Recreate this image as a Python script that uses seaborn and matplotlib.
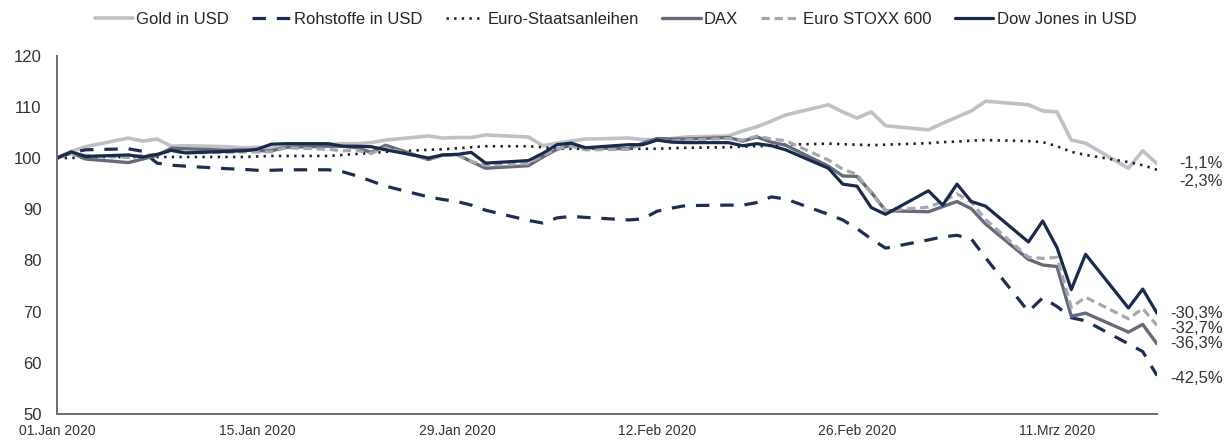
import pandas as pd
import seaborn as sns
import matplotlib.pyplot as plt
from matplotlib.transforms import offset_copy

# weekdays 01.01.2020 - 18.03.2020, index 100 = 31.12.2019
dates = pd.bdate_range("2020-01-01", "2020-03-18")

gold = [100, 101.3, 102.2, 103.9, 103.3, 103.7, 102.3, 102.4, 102.2, 102.0,
        102.1, 102.0, 102.3, 102.6, 102.8, 102.8, 103.0, 103.5, 104.3, 103.9,
        104.0, 104.0, 104.5, 104.1, 102.4, 102.9, 103.3, 103.7, 103.9, 103.6,
        103.5, 103.8, 104.1, 104.3, 105.3, 106.1, 107.2, 108.4, 110.4, 109.0,
        107.8, 109.0, 106.3, 105.5, 106.8, 108.0, 109.2, 111.1, 110.4, 109.2,
        109.0, 103.5, 102.9, 98.0, 101.4, 98.9]
rohstoffe = [100, 101.0, 101.6, 101.8, 101.3, 99.0, 98.6, 98.4, 97.9, 97.8,
             97.6, 97.6, 97.7, 97.7, 97.3, 96.5, 95.5, 94.5, 92.4, 91.9,
             91.5, 90.8, 89.8, 87.8, 87.3, 88.3, 88.6, 88.4, 87.9, 88.1,
             89.6, 90.2, 90.7, 90.8, 90.8, 91.3, 92.4, 92.0, 89.0, 87.9,
             86.2, 84.2, 82.4, 84.0, 84.6, 84.9, 84.2, 80.5, 70.0, 72.7,
             71.0, 68.8, 68.2, 63.7, 62.2, 57.5]
staatsanleihen = [100, 100.0, 100.2, 100.2, 100.2, 100.2, 100.2, 100.2, 100.2, 100.2,
                  100.3, 100.4, 100.4, 100.4, 100.6, 100.8, 101.0, 101.2, 101.6, 101.7,
                  101.9, 102.1, 102.3, 102.3, 102.1, 101.8, 101.8, 101.8, 101.8, 101.8,
                  101.8, 101.9, 102.0, 102.1, 102.2, 102.3, 102.4, 102.6, 102.8, 102.7,
                  102.6, 102.5, 102.6, 102.9, 103.1, 103.2, 103.4, 103.5, 103.3, 103.1,
                  102.3, 101.2, 100.6, 99.2, 98.6, 97.7]
dax = [100, 101.0, 99.8, 99.1, 99.8, 100.5, 101.9, 101.8, 101.5, 101.6,
       101.4, 101.4, 102.1, 102.3, 102.3, 102.0, 101.1, 102.5, 99.7, 100.6,
       100.7, 99.3, 98.0, 98.5, 100.2, 101.7, 102.5, 102.0, 101.8, 102.9,
       103.8, 103.7, 103.7, 104.0, 103.3, 104.1, 103.1, 102.5, 98.4, 96.5,
       96.4, 93.3, 89.7, 89.5, 90.5, 91.5, 90.1, 87.1, 80.2, 79.1,
       78.8, 69.1, 69.7, 66.0, 67.5, 63.7]
stoxx = [100, 100.9, 100.5, 100.1, 100.5, 100.7, 101.4, 101.0, 101.1, 101.2,
         101.2, 101.2, 102.0, 101.7, 101.4, 101.5, 100.9, 102.0, 99.7, 100.5,
         100.6, 99.3, 98.6, 98.9, 100.5, 101.8, 102.3, 101.6, 101.7, 102.7,
         103.5, 103.3, 103.5, 103.8, 103.5, 104.3, 103.7, 103.4, 99.6, 97.8,
         96.8, 93.2, 89.7, 90.4, 91.5, 93.0, 91.4, 88.0, 80.6, 80.4,
         80.6, 70.8, 72.8, 68.6, 70.6, 67.3]
dow = [100, 101.2, 100.3, 100.6, 100.2, 100.7, 101.5, 101.0, 101.3, 101.4,
       101.7, 102.7, 102.8, 102.8, 102.3, 102.3, 102.2, 101.6, 100.0, 100.6,
       100.7, 101.1, 99.0, 99.5, 100.9, 102.6, 102.9, 102.0, 102.6, 102.6,
       103.5, 103.1, 103.0, 103.0, 102.4, 102.8, 102.4, 101.6, 98.0, 94.9,
       94.5, 90.3, 89.0, 93.6, 90.8, 94.9, 91.5, 90.6, 83.6, 87.7,
       82.5, 74.3, 81.2, 70.7, 74.4, 69.7]

names = ["Gold in USD", "Rohstoffe in USD", "Euro-Staatsanleihen",
         "DAX", "Euro STOXX 600", "Dow Jones in USD"]
series = [gold, rohstoffe, staatsanleihen, dax, stoxx, dow]

tick_dates = ["2020-01-01", "2020-01-15", "2020-01-29",
              "2020-02-12", "2020-02-26", "2020-03-11"]
tick_labels = ["01.Jan 2020", "15.Jan 2020", "29.Jan 2020",
               "12.Feb 2020", "26.Feb 2020", "11.Mrz 2020"]

# style per series: colour, width, dash pattern
styles = {
    "Gold in USD":         ("#c0c1c6", 2.6, "-"),
    "Rohstoffe in USD":    ("#1c2f52", 2.3, (0, (4.2, 3.4))),
    "Euro-Staatsanleihen": ("#1b2233", 1.9, (0, (0.9, 2.0))),
    "DAX":                 ("#676b78", 2.4, "-"),
    "Euro STOXX 600":      ("#a6a8b0", 2.3, (0, (2.6, 1.5))),
    "Dow Jones in USD":    ("#182b4c", 2.3, "-"),
}
# small vertical nudges (px) for end labels so they don't overlap
label_nudge = {"Euro-Staatsanleihen": -12, "Euro STOXX 600": -3, "Rohstoffe in USD": -3}

df = pd.DataFrame({"Datum": dates})
for n, s in zip(names, series):
    df[n] = s
long = df.melt(id_vars="Datum", var_name="Serie", value_name="Wert")

sns.set_style("white")
plt.rcParams["font.family"] = ["Liberation Sans", "DejaVu Sans"]

fig = plt.figure(figsize=(12.31, 4.45), dpi=100)
ax = fig.add_axes([57 / 1231, 1 - 414 / 445, 1100 / 1231, (414 - 55.6) / 445])

for n in names:
    col, lw, ls = styles[n]
    sub = long[long["Serie"] == n]
    sns.lineplot(data=sub, x="Datum", y="Wert", ax=ax, color=col,
                 linewidth=lw, linestyle=ls, label=n)

ax.set_xlim(dates[0], dates[-1])
ax.set_ylim(50, 120)
ax.set_yticks(range(50, 121, 10))
ax.set_xticks(pd.to_datetime(tick_dates))
ax.set_xticklabels(tick_labels)
ax.set_xlabel("")
ax.set_ylabel("")
ax.tick_params(axis="y", length=0, pad=11, labelsize=12, labelcolor="#333333")
ax.tick_params(axis="x", length=0, pad=7, labelsize=10, labelcolor="#333333")
for side in ["top", "right"]:
    ax.spines[side].set_visible(False)
for side in ["left", "bottom"]:
    ax.spines[side].set_color("#6e6e6e")
    ax.spines[side].set_linewidth(1.4)

# end-of-period labels, right-aligned next to the last point
for n, s in zip(names, series):
    chg = s[-1] - 100
    txt = f"{chg:.1f}%".replace(".", ",")
    tr = offset_copy(ax.transData, fig=fig, x=66, y=label_nudge.get(n, 0), units="dots")
    ax.text(dates[-1], s[-1], txt, transform=tr, ha="right", va="center",
            fontsize=12, color="#333333", clip_on=False)

handles, labels = ax.get_legend_handles_labels()
ax.legend(handles, labels, loc="center", bbox_to_anchor=(0.5, 1 - 19 / 445),
          bbox_transform=fig.transFigure, ncol=6, frameon=False, fontsize=12,
          handlelength=2.3, handletextpad=0.2, columnspacing=1.4)

fig.savefig("out.png", dpi=100)
